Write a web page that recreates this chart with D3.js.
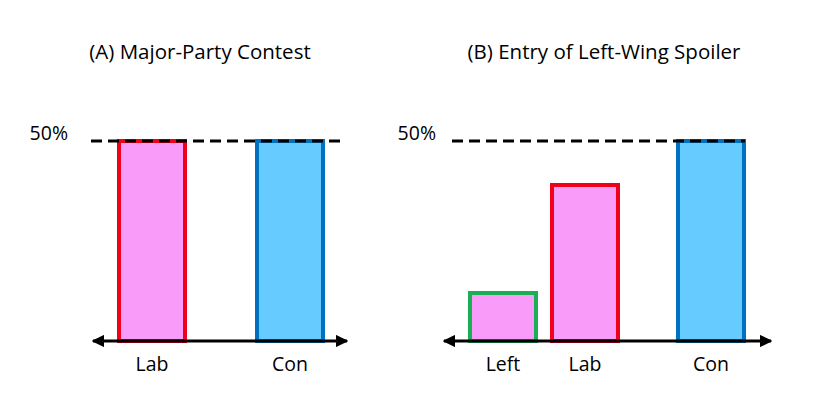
<!DOCTYPE html>
<html>
<head>
<meta charset="utf-8">
<script src="https://cdn.jsdelivr.net/npm/d3@7"></script>
<style>
  html, body { margin: 0; background: #fff; }
  svg text { font-family: "Open Sans", Lato, sans-serif; fill: #000; }
  .title { font-size: 20.5px; }
  .tick-label { font-size: 19.5px; }
</style>
</head>
<body>
<div id="chart"></div>
<script>
const PANEL_TITLES = ["(A) Major-Party Contest", "(B) Entry of Left-Wing Spoiler"];
const PANEL_A_PARTIES = ["Lab", "Con"];
const PANEL_A_SHARES = [50, 50];
const PANEL_B_PARTIES = ["Left", "Lab", "Con"];
const PANEL_B_SHARES = [12, 39, 50];
const THRESHOLD = 50;
const THRESHOLD_LABEL = "50%";

const FILLS = { Left: "#f99cf9", Lab: "#f99cf9", Con: "#66ccff" };
const STROKES = { Left: "#1aaf54", Lab: "#f0001c", Con: "#0070c0" };

const width = 838;
const height = 412;
const svg = d3.select("#chart").append("svg").attr("width", width).attr("height", height);

const defs = svg.append("defs");
defs.append("marker")
  .attr("id", "arrow")
  .attr("viewBox", "0 0 10 10")
  .attr("refX", 9)
  .attr("refY", 5)
  .attr("markerWidth", 4.2)
  .attr("markerHeight", 4.2)
  .attr("markerUnits", "strokeWidth")
  .attr("orient", "auto-start-reverse")
  .append("path")
  .attr("d", "M0,0 L10,5 L0,10 Z")
  .attr("fill", "#000");

const y = d3.scaleLinear().domain([0, THRESHOLD]).range([341, 141]);

function drawPanel(cfg) {
  const g = svg.append("g");
  const x = d3.scaleOrdinal().domain(cfg.parties).range(cfg.centers);
  const barWidth = 66;

  g.append("text")
    .attr("class", "title")
    .attr("x", cfg.titleX)
    .attr("y", 59)
    .attr("text-anchor", "middle")
    .text(cfg.title);

  g.append("text")
    .attr("class", "tick-label")
    .attr("x", cfg.pctX)
    .attr("y", y(THRESHOLD) - 1)
    .attr("text-anchor", "end")
    .text(THRESHOLD_LABEL);

  const data = cfg.parties.map((p, i) => ({ party: p, share: cfg.shares[i] }));

  g.selectAll("rect.bar")
    .data(data)
    .join("rect")
    .attr("class", "bar")
    .attr("x", (d) => x(d.party) - barWidth / 2)
    .attr("width", barWidth)
    .attr("y", (d) => y(d.share))
    .attr("height", (d) => y(0) - y(d.share))
    .attr("fill", (d) => FILLS[d.party])
    .attr("stroke", (d) => STROKES[d.party])
    .attr("stroke-width", 4);

  g.append("line")
    .attr("x1", cfg.dashFrom)
    .attr("x2", cfg.dashTo)
    .attr("y1", y(THRESHOLD))
    .attr("y2", y(THRESHOLD))
    .attr("stroke", "#000")
    .attr("stroke-width", 3)
    .attr("stroke-dasharray", "11 6");

  g.append("line")
    .attr("x1", cfg.axisFrom)
    .attr("x2", cfg.axisTo)
    .attr("y1", y(0))
    .attr("y2", y(0))
    .attr("stroke", "#000")
    .attr("stroke-width", 3)
    .attr("marker-start", "url(#arrow)")
    .attr("marker-end", "url(#arrow)");

  g.selectAll("text.tick-party")
    .data(data)
    .join("text")
    .attr("class", "tick-label tick-party")
    .attr("x", (d) => x(d.party))
    .attr("y", 371)
    .attr("text-anchor", "middle")
    .text((d) => d.party);
}

drawPanel({
  title: PANEL_TITLES[0],
  titleX: 200,
  parties: PANEL_A_PARTIES,
  shares: PANEL_A_SHARES,
  centers: [152, 290],
  pctX: 68,
  dashFrom: 91,
  dashTo: 343,
  axisFrom: 93,
  axisTo: 347,
});

drawPanel({
  title: PANEL_TITLES[1],
  titleX: 604,
  parties: PANEL_B_PARTIES,
  shares: PANEL_B_SHARES,
  centers: [503, 585, 711],
  pctX: 436,
  dashFrom: 452,
  dashTo: 745,
  axisFrom: 444,
  axisTo: 771,
});
</script>
</body>
</html>
